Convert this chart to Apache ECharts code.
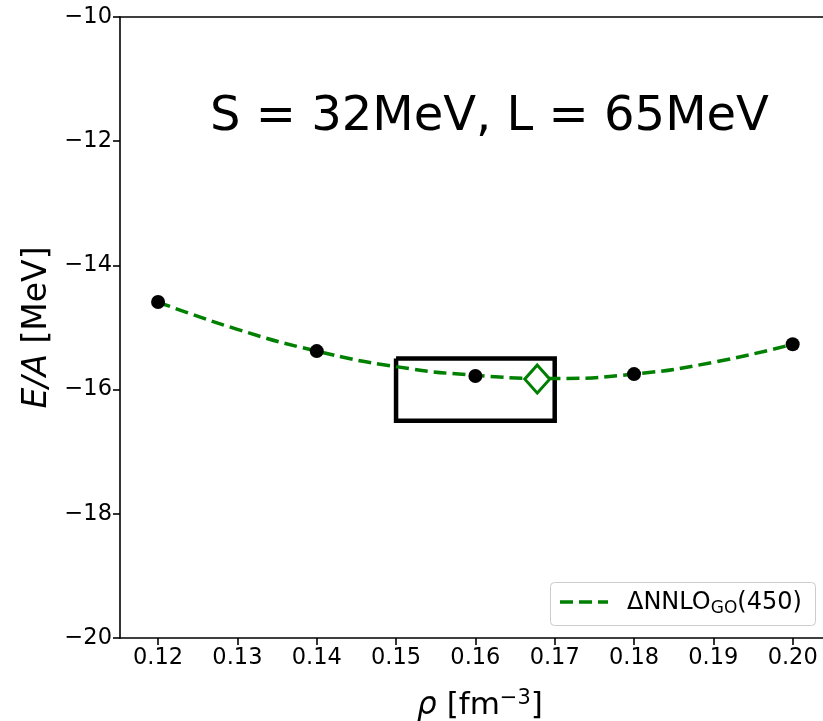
<!DOCTYPE html>
<html>
<head>
<meta charset="utf-8">
<script src="https://cdn.jsdelivr.net/npm/echarts@6/dist/echarts.min.js"></script>
<style>
html,body{margin:0;padding:0;background:#fff;}
#chart{width:823px;height:721px;}
</style>
</head>
<body>
<div id="chart"></div>
<script>
// Data
const densities = [0.12, 0.14, 0.16, 0.18, 0.20];
const energies = [-14.59, -15.38, -15.78, -15.75, -15.27];
const curveX = [0.12, 0.13, 0.14, 0.15, 0.16, 0.17, 0.18, 0.19, 0.20];
const curveY = [-14.59, -15.03, -15.38, -15.63, -15.77, -15.82, -15.75, -15.56, -15.27];
const saturationPoint = [0.1678, -15.83];
const boxX = [0.15, 0.17];
const boxY = [-16.5, -15.5];
const xTicks = [0.12, 0.13, 0.14, 0.15, 0.16, 0.17, 0.18, 0.19, 0.20];
const yTicks = [-20, -18, -16, -14, -12, -10];
const titleText = 'S = 32MeV, L = 65MeV';
const seriesName = 'ΔNNLO_GO(450)';

const FONT = 'DejaVu Sans';
const GREEN = '#008000';
const chart = echarts.init(document.getElementById('chart'), null, {renderer: 'canvas'});

const curveData = curveX.map((x, i) => [x, curveY[i]]);
const pointData = densities.map((x, i) => [x, energies[i]]);
const boxData = [
  [boxX[0], boxY[1]], [boxX[1], boxY[1]], [boxX[1], boxY[0]], [boxX[0], boxY[0]], [boxX[0], boxY[1]]
];
const minus = v => (v < 0 ? '\u2212' : '') + Math.abs(v);

chart.setOption({
  animation: false,
  backgroundColor: '#fff',
  grid: {left: 120, top: 17, right: -3, bottom: 83, containLabel: false, outerBoundsMode: 'none'},
  xAxis: [{
    type: 'value',
    min: 0.1152,
    max: 0.2042,
    position: 'bottom',
    name: '{it|ρ} [fm{sup|−3}]',
    nameLocation: 'middle',
    nameGap: 50,
    nameTextStyle: {
      fontFamily: FONT, fontSize: 31, color: '#000', padding: [0, 0, 0, 14],
      rich: {
        it: {fontFamily: FONT, fontSize: 31, fontStyle: 'italic', color: '#000'},
        sup: {fontFamily: FONT, fontSize: 21, color: '#000', verticalAlign: 'top', padding: [0,0,14,0]}
      }
    },
    axisLine: {show: true, onZero: false, lineStyle: {color: '#000', width: 1.6}},
    axisTick: {show: true, inside: false, length: 7, lineStyle: {color: '#000', width: 1.6}, customValues: xTicks},
    axisLabel: {show: true, margin: 9, fontFamily: FONT, fontSize: 22.5, color: '#000',
      customValues: xTicks, formatter: v => v.toFixed(2)},
    splitLine: {show: false}
  }, {
    type: 'value',
    min: 0.1152,
    max: 0.2042,
    position: 'top',
    axisLine: {show: true, onZero: false, lineStyle: {color: '#000', width: 1.6}},
    axisTick: {show: false},
    axisLabel: {show: false},
    splitLine: {show: false}
  }],
  yAxis: {
    type: 'value',
    min: yTicks[0],
    max: yTicks[yTicks.length - 1],
    interval: 2,
    name: '{it|E/A} [MeV]',
    nameLocation: 'middle',
    nameGap: 64,
    nameRotate: 90,
    nameTextStyle: {
      fontFamily: FONT, fontSize: 33, color: '#000',
      rich: {it: {fontFamily: FONT, fontSize: 33, fontStyle: 'italic', color: '#000'}}
    },
    axisLine: {show: true, onZero: false, lineStyle: {color: '#000', width: 1.6}},
    axisTick: {show: true, inside: false, length: 7, lineStyle: {color: '#000', width: 1.6}},
    axisLabel: {show: true, margin: 8, fontFamily: FONT, fontSize: 22.5, color: '#000', formatter: minus},
    splitLine: {show: false}
  },
  series: [
    {
      name: 'box',
      type: 'line',
      data: boxData,
      symbol: 'none',
      silent: true,
      z: 1,
      lineStyle: {color: '#000', width: 4.5, join: 'miter', opacity: 1}
    },
    {
      name: seriesName,
      type: 'line',
      data: curveData,
      smooth: true,
      symbol: 'none',
      z: 2,
      lineStyle: {color: GREEN, width: 3.5, type: [13, 6], opacity: 1}
    },
    {
      name: 'points',
      type: 'scatter',
      data: pointData,
      symbol: 'circle',
      symbolSize: 14,
      z: 3,
      itemStyle: {color: '#000', opacity: 1}
    },
    {
      name: 'saturation',
      type: 'scatter',
      data: [saturationPoint],
      symbol: 'diamond',
      symbolSize: [25, 28],
      z: 4,
      itemStyle: {color: '#fff', borderColor: GREEN, borderWidth: 3, opacity: 1}
    }
  ],
  graphic: [
    {
      type: 'text',
      left: 210,
      top: 94,
      style: {text: titleText, font: '48px "DejaVu Sans"', fill: '#000'}
    },
    {
      type: 'group',
      left: 550,
      top: 582,
      children: [
        {
          type: 'rect',
          shape: {x: 0.5, y: 0.5, width: 265, height: 43, r: 4},
          style: {fill: 'rgba(255,255,255,0.8)', stroke: '#cccccc', lineWidth: 1}
        },
        {
          type: 'line',
          shape: {x1: 10, y1: 20, x2: 58, y2: 20},
          style: {stroke: GREEN, lineWidth: 3.5, lineDash: [13, 6]}
        },
        {
          type: 'text',
          x: 77,
          y: 21,
          style: {
            text: 'ΔNNLO{sub|GO}(450)',
            fontFamily: FONT, fontSize: 24, fill: '#000',
            verticalAlign: 'middle',
            rich: {sub: {fontFamily: FONT, fontSize: 17, fill: '#000', padding: [12, 0, 0, 0]}}
          }
        }
      ]
    }
  ]
});
</script>
</body>
</html>
